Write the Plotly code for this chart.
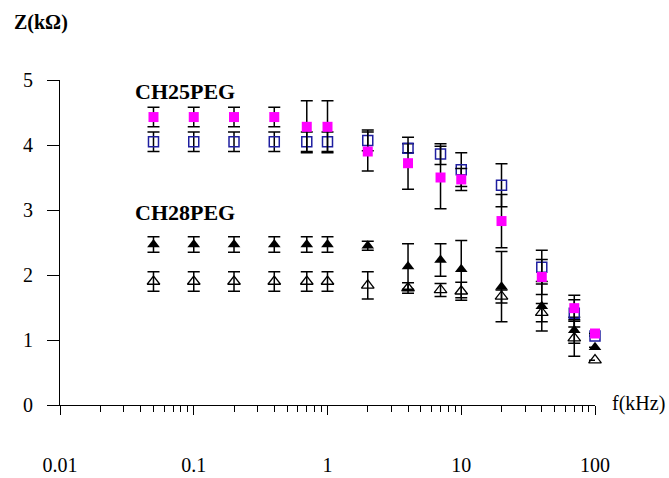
import plotly.graph_objects as go

freq = [0.05, 0.1, 0.2, 0.4, 0.7, 1, 2, 4, 7, 10, 20, 40, 70, 100]

ch25_filled = [4.43, 4.43, 4.43, 4.43, 4.28, 4.28, 3.90, 3.72, 3.50, 3.47, 2.83, 1.97, 1.49, 1.10]
ch25_filled_err = [0.15, 0.15, 0.15, 0.15, 0.40, 0.40, 0.30, 0.40, 0.48, 0.17, 0.41, 0.27, 0.20, 0.0]

ch25_open = [4.05, 4.05, 4.05, 4.05, 4.05, 4.05, 4.07, 3.95, 3.86, 3.62, 3.38, 2.12, 1.41, 1.06]
ch25_open_err = [0.15, 0.15, 0.15, 0.15, 0.15, 0.15, 0.16, 0.07, 0.16, 0.26, 0.33, 0.26, 0.21, 0.0]

ch28_filled = [2.47, 2.47, 2.47, 2.47, 2.47, 2.47, 2.45, 2.13, 2.23, 2.09, 1.82, 1.52, 1.15, 0.89]
ch28_filled_err = [0.12, 0.12, 0.12, 0.12, 0.12, 0.12, 0.07, 0.35, 0.25, 0.44, 0.54, 0.38, 0.20, 0.0]

ch28_open = [1.90, 1.90, 1.90, 1.90, 1.90, 1.90, 1.84, 1.80, 1.77, 1.75, 1.67, 1.42, 1.03, 0.69]
ch28_open_err = [0.15, 0.15, 0.15, 0.15, 0.15, 0.15, 0.21, 0.08, 0.10, 0.14, 0.10, 0.14, 0.28, 0.0]

x_major = [0.01, 0.1, 1, 10, 100]
x_major_labels = ["0.01", "0.1", "1", "10", "100"]
x_minor = [m * d for d in [0.01, 0.1, 1, 10] for m in range(2, 10)]
y_ticks = [0, 1, 2, 3, 4, 5]

FONT = "Liberation Serif"

def err(arr):
    return dict(type="data", array=arr, visible=True, color="black", thickness=1.5, width=6)

fig = go.Figure()
fig.add_trace(go.Scatter(x=freq, y=ch28_open, mode="markers", error_y=err(ch28_open_err), cliponaxis=False,
                         marker=dict(symbol="triangle-up-open", size=11, color="black", line=dict(width=1.3, color="black"))))
fig.add_trace(go.Scatter(x=freq, y=ch28_filled, mode="markers", error_y=err(ch28_filled_err), cliponaxis=False,
                         marker=dict(symbol="triangle-up", size=11, color="black", line=dict(width=0))))
fig.add_trace(go.Scatter(x=freq, y=ch25_open, mode="markers", error_y=err(ch25_open_err), cliponaxis=False,
                         marker=dict(symbol="square-open", size=10, color="#1F1FA0", line=dict(width=1.5, color="#1F1FA0"))))
fig.add_trace(go.Scatter(x=freq, y=ch25_filled, mode="markers", error_y=err(ch25_filled_err), cliponaxis=False,
                         marker=dict(symbol="square", size=10, color="#FF00FF", line=dict(width=0))))

fig.update_layout(
    template="none",
    width=669, height=478,
    margin=dict(l=60, r=74, t=80, b=73, autoexpand=False),
    paper_bgcolor="white", plot_bgcolor="white",
    showlegend=False,
    font=dict(family=FONT, size=20, color="black"),
    xaxis=dict(type="log", range=[-2, 2], tickvals=x_major, ticktext=x_major_labels,
               ticks="outside", ticklen=9, tickcolor="black", tickwidth=1, automargin=False,
               showline=True, linecolor="black", linewidth=1, showgrid=False, zeroline=False,
               ticklabelstandoff=33,
               minor=dict(tickvals=x_minor, ticks="outside", ticklen=6, tickcolor="black", tickwidth=1, showgrid=False)),
    yaxis=dict(range=[0, 5], tickvals=y_ticks, ticks="outside", ticklen=12, tickcolor="black", tickwidth=1,
               showline=True, linecolor="black", linewidth=1, showgrid=False, zeroline=False, automargin=False,
               ticklabelstandoff=10),
    annotations=[
        dict(text="<b>CH25PEG</b>", xref="paper", yref="paper", x=0.136, y=0.966, xanchor="left", yanchor="middle",
             showarrow=False, font=dict(family=FONT, size=22)),
        dict(text="<b>CH28PEG</b>", xref="paper", yref="paper", x=0.136, y=0.591, xanchor="left", yanchor="middle",
             showarrow=False, font=dict(family=FONT, size=22)),
        dict(text="<b>Z(kΩ)</b>", xref="paper", yref="paper", x=-0.09, y=1.178, xanchor="left", yanchor="middle",
             showarrow=False, font=dict(family=FONT, size=20)),
        dict(text="f(kHz)", xref="paper", yref="paper", x=1.028, y=0.006, xanchor="left", yanchor="middle",
             showarrow=False, font=dict(family=FONT, size=20)),
    ],
)

fig.write_html("out.html")
